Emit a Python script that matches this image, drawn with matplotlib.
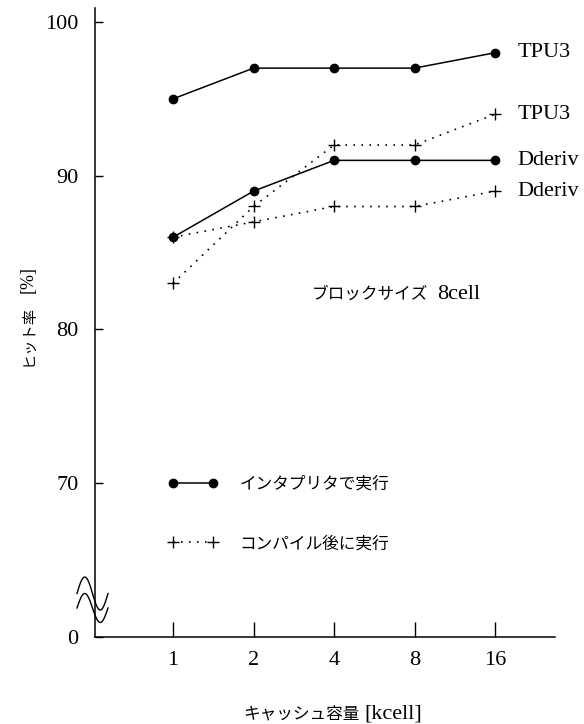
import numpy as np
import matplotlib
matplotlib.use("Agg")
import matplotlib.pyplot as plt
from matplotlib.lines import Line2D

plt.rcParams['font.family'] = ['Liberation Serif', 'Noto Sans CJK JP']

# ---- data ----
cache_sizes = ['1', '2', '4', '8', '16']
tpu3_interp = [95, 97, 97, 97, 98]
dderiv_interp = [86, 89, 91, 91, 91]
tpu3_compiled = [83, 88, 92, 92, 94]
dderiv_compiled = [86, 87, 88, 88, 89]
series_names = ['TPU3', 'Dderiv']
y_tick_values = [60, 70, 80, 90, 100]
y_tick_labels = ['0', '70', '80', '90', '100']
legend_labels = ['インタプリタで実行', 'コンパイル後に実行']

W, H = 584, 724
fig = plt.figure(figsize=(W / 100, H / 100), dpi=100)
ax = fig.add_axes([95 / W, 87 / H, 460 / W, 629 / H])


def px(x, y):
    return (x / W, 1 - y / H)


xpos = np.arange(len(cache_sizes))
solid = dict(color='black', lw=1.1, ls='-', marker='o', ms=6, mfc='black', mec='black')
dotted = dict(color='black', lw=1.2, ls=(0, (1.0, 3.8)), marker='+', ms=8, mew=1.0)

l1, = ax.plot(xpos, tpu3_interp, **solid, clip_on=False)
ax.plot(xpos, dderiv_interp, **solid, clip_on=False)
l2, = ax.plot(xpos, tpu3_compiled, **dotted, clip_on=False)
ax.plot(xpos, dderiv_compiled, **dotted, clip_on=False)

# right-hand labels
for name, series in zip(series_names + series_names,
                        [tpu3_interp, dderiv_interp, tpu3_compiled, dderiv_compiled]):
    ax.annotate(name, xy=(xpos[-1], series[-1]), xytext=(16, 0),
                textcoords='offset points', va='center', ha='left', fontsize=16)

ax.set_xlim(-0.969, 4.745)
ax.set_ylim(60, 100.91)
ax.set_xticks(xpos)
ax.set_xticklabels(cache_sizes, fontsize=16)
ax.set_yticks(y_tick_values)
ax.set_yticklabels(y_tick_labels, fontsize=16)
ax.tick_params(axis='x', direction='in', length=11, width=1, pad=10)
ax.tick_params(axis='y', direction='in', length=6, width=1, pad=12)
for s in ['top', 'right']:
    ax.spines[s].set_visible(False)
for s in ['left', 'bottom']:
    ax.spines[s].set_linewidth(1.1)

# legend
leg = ax.legend([l1, l2], legend_labels, loc='upper left', numpoints=2,
                bbox_to_anchor=px(168, 477), bbox_transform=fig.transFigure,
                frameon=False, fontsize=12, handlelength=3.0, handletextpad=1.3,
                labelspacing=2.6, borderpad=0, borderaxespad=0)

# annotation text
fig.text(*px(428, 299), 'ブロックサイズ', ha='right', va='baseline', fontsize=12)
fig.text(*px(437, 299), '8cell', ha='left', va='baseline', fontsize=16)

# axis labels
fig.text(*px(360, 719), 'キャッシュ容量', ha='right', va='baseline', fontsize=12)
fig.text(*px(364, 719), '[kcell]', ha='left', va='baseline', fontsize=16)
fig.text(*px(28, 366), 'ヒット率', ha='center', va='bottom', rotation=90, fontsize=11)
fig.text(*px(28, 293), '[%]', ha='center', va='bottom', rotation=90, fontsize=13)

# axis break symbol
t = np.linspace(0, 1, 60)
for yc, amp in ((593.5, 16.5), (608.0, 14.5)):
    xs = 77 + 31 * t
    ys = yc - amp * np.sin(2 * np.pi * t)
    fig.add_artist(Line2D(xs / W, 1 - ys / H, transform=fig.transFigure,
                          color='black', lw=1.0))

fig.savefig('out.png', dpi=100)
